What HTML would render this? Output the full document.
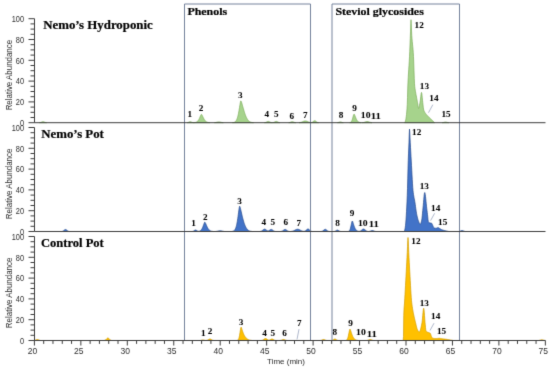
<!DOCTYPE html><html><head><meta charset="utf-8"><title>Chromatograms</title><style>
html,body{margin:0;padding:0;background:#fff;}body{width:550px;height:369px;overflow:hidden;}
svg{display:block;}
.t{font-family:"Liberation Serif",serif;font-weight:bold;fill:#000;stroke:#000;stroke-width:0.2px;}
.s{font-family:"Liberation Sans",Arial,sans-serif;fill:#2c2c2c;}
</style></head><body>
<svg width="550" height="369" viewBox="0 0 550 369">
<defs><filter id="bl" filterUnits="userSpaceOnUse" x="0" y="0" width="550" height="369" color-interpolation-filters="sRGB"><feConvolveMatrix order="3" kernelMatrix="0.0113 0.0838 0.0113 0.0838 0.6193 0.0838 0.0113 0.0838 0.0113" edgeMode="duplicate"/></filter></defs>
<g filter="url(#bl)">
<rect width="550" height="369" fill="#fff"/>
<path d="M39.50 122.70 L39.75 122.60 L40.00 122.56 L40.25 122.51 L40.50 122.45 L40.75 122.38 L41.00 122.29 L41.25 122.19 L41.50 122.09 L41.75 121.99 L42.00 121.90 L42.25 121.82 L42.50 121.75 L42.75 121.71 L43.00 121.70 L43.25 121.71 L43.50 121.75 L43.75 121.82 L44.00 121.90 L44.25 121.99 L44.50 122.09 L44.75 122.19 L45.00 122.29 L45.25 122.38 L45.50 122.45 L45.75 122.51 L46.00 122.56 L46.25 122.60 L46.50 122.70 Z M187.25 122.70 L187.50 122.58 L187.75 122.53 L188.00 122.46 L188.25 122.38 L188.50 122.27 L188.75 122.16 L189.00 122.05 L189.25 121.93 L189.50 121.83 L189.75 121.76 L190.00 121.71 L190.25 121.70 L190.50 121.72 L190.75 121.78 L191.00 121.87 L191.25 121.97 L191.50 122.09 L191.75 122.20 L192.00 122.31 L192.25 122.40 L192.50 122.47 L192.75 122.53 L193.00 122.57 L193.25 122.60 L193.50 122.62 L193.75 122.62 L194.00 122.61 L194.25 122.60 L194.50 122.58 L194.75 122.55 L195.00 122.51 L195.25 122.47 L195.50 122.41 L195.75 122.35 L196.00 122.26 L196.25 122.17 L196.50 122.05 L196.75 121.91 L197.00 121.75 L197.25 121.56 L197.50 121.33 L197.75 121.08 L198.00 120.79 L198.25 120.45 L198.50 120.08 L198.75 119.66 L199.00 119.21 L199.25 118.71 L199.50 118.17 L199.75 117.61 L200.00 117.02 L200.25 116.42 L200.50 115.83 L200.75 115.28 L201.00 114.79 L201.25 114.41 L201.50 114.35 L201.75 114.64 L202.00 115.04 L202.25 115.51 L202.50 116.02 L202.75 116.55 L203.00 117.08 L203.25 117.61 L203.50 118.11 L203.75 118.59 L204.00 119.05 L204.25 119.47 L204.50 119.86 L204.75 120.22 L205.00 120.54 L205.25 120.83 L205.50 121.09 L205.75 121.32 L206.00 121.52 L206.25 121.69 L206.50 121.85 L206.75 121.98 L207.00 122.10 L207.25 122.20 L207.50 122.28 L207.75 122.35 L208.00 122.41 L208.25 122.46 L208.50 122.50 L208.75 122.54 L209.00 122.57 L209.25 122.59 L209.50 122.61 L209.75 122.70 Z M214.50 122.70 L214.75 122.60 L215.00 122.57 L215.25 122.53 L215.50 122.49 L215.75 122.45 L216.00 122.40 L216.25 122.35 L216.50 122.29 L216.75 122.23 L217.00 122.17 L217.25 122.11 L217.50 122.05 L217.75 122.00 L218.00 121.96 L218.25 121.93 L218.50 121.91 L218.75 121.90 L219.00 121.90 L219.25 121.92 L219.50 121.95 L219.75 121.99 L220.00 122.03 L220.25 122.08 L220.50 122.14 L220.75 122.20 L221.00 122.26 L221.25 122.32 L221.50 122.38 L221.75 122.43 L222.00 122.48 L222.25 122.52 L222.50 122.56 L222.75 122.59 L223.00 122.61 L223.25 122.70 Z M232.50 122.70 L232.75 122.60 L233.00 122.57 L233.25 122.54 L233.50 122.50 L233.75 122.44 L234.00 122.37 L234.25 122.29 L234.50 122.18 L234.75 122.06 L235.00 121.90 L235.25 121.72 L235.50 121.49 L235.75 121.22 L236.00 120.90 L236.25 120.52 L236.50 120.08 L236.75 119.56 L237.00 118.95 L237.25 118.26 L237.50 117.47 L237.75 116.57 L238.00 115.57 L238.25 114.46 L238.50 113.24 L238.75 111.91 L239.00 110.49 L239.25 109.00 L239.50 107.46 L239.75 105.90 L240.00 104.38 L240.25 102.96 L240.50 101.75 L240.75 100.91 L241.00 101.02 L241.25 101.52 L241.50 102.18 L241.75 102.94 L242.00 103.77 L242.25 104.64 L242.50 105.53 L242.75 106.43 L243.00 107.33 L243.25 108.22 L243.50 109.10 L243.75 109.96 L244.00 110.80 L244.25 111.63 L244.50 112.44 L244.75 113.23 L245.00 113.97 L245.25 114.68 L245.50 115.35 L245.75 115.98 L246.00 116.57 L246.25 117.13 L246.50 117.65 L246.75 118.14 L247.00 118.59 L247.25 119.01 L247.50 119.40 L247.75 119.76 L248.00 120.09 L248.25 120.39 L248.50 120.66 L248.75 120.91 L249.00 121.14 L249.25 121.34 L249.50 121.52 L249.75 121.68 L250.00 121.82 L250.25 121.95 L250.50 122.06 L250.75 122.16 L251.00 122.24 L251.25 122.31 L251.50 122.37 L251.75 122.43 L252.00 122.47 L252.25 122.51 L252.50 122.54 L252.75 122.57 L253.00 122.59 L253.25 122.61 L253.50 122.70 Z M264.50 122.70 L264.75 122.61 L265.00 122.57 L265.25 122.51 L265.50 122.44 L265.75 122.36 L266.00 122.26 L266.25 122.14 L266.50 122.02 L266.75 121.89 L267.00 121.76 L267.25 121.64 L267.50 121.53 L267.75 121.46 L268.00 121.41 L268.25 121.40 L268.50 121.43 L268.75 121.48 L269.00 121.57 L269.25 121.68 L269.50 121.81 L269.75 121.94 L270.00 122.07 L270.25 122.19 L270.50 122.30 L270.75 122.39 L271.00 122.47 L271.25 122.53 L271.50 122.57 L271.75 122.61 L272.00 122.70 Z M272.25 122.70 L272.50 122.62 L272.75 122.59 L273.00 122.56 L273.25 122.51 L273.50 122.44 L273.75 122.36 L274.00 122.26 L274.25 122.14 L274.50 122.02 L274.75 121.89 L275.00 121.76 L275.25 121.64 L275.50 121.53 L275.75 121.46 L276.00 121.41 L276.25 121.40 L276.50 121.43 L276.75 121.48 L277.00 121.57 L277.25 121.68 L277.50 121.81 L277.75 121.94 L278.00 122.07 L278.25 122.19 L278.50 122.30 L278.75 122.39 L279.00 122.47 L279.25 122.54 L279.50 122.58 L279.75 122.70 Z M288.75 122.70 L289.00 122.60 L289.25 122.56 L289.50 122.50 L289.75 122.44 L290.00 122.36 L290.25 122.27 L290.50 122.17 L290.75 122.07 L291.00 121.97 L291.25 121.88 L291.50 121.80 L291.75 121.74 L292.00 121.71 L292.25 121.70 L292.50 121.72 L292.75 121.77 L293.00 121.83 L293.25 121.92 L293.50 122.01 L293.75 122.11 L294.00 122.21 L294.25 122.31 L294.50 122.39 L294.75 122.46 L295.00 122.52 L295.25 122.57 L295.50 122.61 L295.75 122.70 Z M299.00 122.70 L299.25 122.60 L299.50 122.58 L299.75 122.55 L300.00 122.51 L300.25 122.47 L300.50 122.42 L300.75 122.36 L301.00 122.29 L301.25 122.22 L301.50 122.13 L301.75 122.04 L302.00 121.95 L302.25 121.84 L302.50 121.74 L302.75 121.63 L303.00 121.52 L303.25 121.41 L303.50 121.31 L303.75 121.21 L304.00 121.13 L304.25 121.05 L304.50 120.99 L304.75 120.94 L305.00 120.91 L305.25 120.90 L305.50 120.91 L305.75 120.93 L306.00 120.97 L306.25 121.03 L306.50 121.10 L306.75 121.18 L307.00 121.27 L307.25 121.37 L307.50 121.48 L307.75 121.59 L308.00 121.70 L308.25 121.80 L308.50 121.91 L308.75 122.01 L309.00 122.10 L309.25 122.18 L309.50 122.26 L309.75 122.33 L310.00 122.39 L310.25 122.43 L310.50 122.47 L310.75 122.50 L311.00 122.51 L311.25 122.50 L311.50 122.47 L311.75 122.42 L312.00 122.34 L312.25 122.23 L312.50 122.09 L312.75 121.92 L313.00 121.73 L313.25 121.52 L313.50 121.31 L313.75 121.11 L314.00 120.93 L314.25 120.80 L314.50 120.72 L314.75 120.70 L315.00 120.74 L315.25 120.85 L315.50 121.00 L315.75 121.19 L316.00 121.40 L316.25 121.62 L316.50 121.82 L316.75 122.02 L317.00 122.18 L317.25 122.32 L317.50 122.43 L317.75 122.51 L318.00 122.58 L318.25 122.62 L318.50 122.70 Z M337.50 122.70 L337.75 122.58 L338.00 122.53 L338.25 122.47 L338.50 122.39 L338.75 122.31 L339.00 122.21 L339.25 122.12 L339.50 122.04 L339.75 121.97 L340.00 121.92 L340.25 121.90 L340.50 121.91 L340.75 121.95 L341.00 122.01 L341.25 122.09 L341.50 122.18 L341.75 122.27 L342.00 122.36 L342.25 122.44 L342.50 122.51 L342.75 122.56 L343.00 122.61 L343.25 122.70 Z M349.75 122.70 L350.00 122.58 L350.25 122.51 L350.50 122.40 L350.75 122.25 L351.00 122.04 L351.25 121.75 L351.50 121.37 L351.75 120.89 L352.00 120.29 L352.25 119.58 L352.50 118.76 L352.75 117.86 L353.00 116.92 L353.25 116.00 L353.50 115.17 L353.75 114.52 L354.00 114.15 L354.25 114.23 L354.50 114.65 L354.75 115.19 L355.00 115.81 L355.25 116.45 L355.50 117.10 L355.75 117.73 L356.00 118.34 L356.25 118.90 L356.50 119.42 L356.75 119.89 L357.00 120.31 L357.25 120.68 L357.50 121.01 L357.75 121.29 L358.00 121.53 L358.25 121.74 L358.50 121.91 L358.75 122.06 L359.00 122.18 L359.25 122.28 L359.50 122.37 L359.75 122.43 L360.00 122.49 L360.25 122.53 L360.50 122.57 L360.75 122.59 L361.00 122.61 L361.25 122.70 Z M362.25 122.70 L362.50 122.61 L362.75 122.59 L363.00 122.56 L363.25 122.52 L363.50 122.48 L363.75 122.43 L364.00 122.36 L364.25 122.29 L364.50 122.22 L364.75 122.13 L365.00 122.04 L365.25 121.95 L365.50 121.86 L365.75 121.78 L366.00 121.70 L366.25 121.63 L366.50 121.57 L366.75 121.53 L367.00 121.51 L367.25 121.50 L367.50 121.51 L367.75 121.54 L368.00 121.59 L368.25 121.65 L368.50 121.73 L368.75 121.81 L369.00 121.90 L369.25 121.99 L369.50 122.08 L369.75 122.17 L370.00 122.25 L370.25 122.32 L370.50 122.39 L370.75 122.45 L371.00 122.50 L371.25 122.55 L371.50 122.58 L371.75 122.61 L372.00 122.70 Z M404.50 122.70 L404.75 122.41 L405.00 122.05 L405.25 121.60 L405.50 120.94 L405.75 119.81 L406.00 118.32 L406.25 116.57 L406.50 114.56 L406.75 112.02 L407.00 108.76 L407.25 104.64 L407.50 97.52 L407.75 88.09 L408.00 82.10 L408.25 77.21 L408.50 72.99 L408.75 69.14 L409.00 65.35 L409.25 61.32 L409.50 56.75 L409.75 51.32 L410.00 45.08 L410.25 38.54 L410.50 31.85 L410.75 23.82 L411.00 19.70 L411.25 23.16 L411.50 30.11 L411.75 35.47 L412.00 38.85 L412.25 41.63 L412.50 44.09 L412.75 46.52 L413.00 49.20 L413.25 52.40 L413.50 56.60 L413.75 63.06 L414.00 70.77 L414.25 78.19 L414.50 83.80 L414.75 86.69 L415.00 88.65 L415.25 90.21 L415.50 91.70 L415.75 93.18 L416.00 94.55 L416.25 95.85 L416.50 97.16 L416.75 98.52 L417.00 99.87 L417.25 101.23 L417.50 102.58 L417.75 103.93 L418.00 105.48 L418.25 107.22 L418.50 108.37 L418.75 108.39 L419.00 107.76 L419.25 106.69 L419.50 105.33 L419.75 103.81 L420.00 102.26 L420.25 100.81 L420.50 98.95 L420.75 96.74 L421.00 94.62 L421.25 93.03 L421.50 92.40 L421.75 93.19 L422.00 95.15 L422.25 97.69 L422.50 100.22 L422.75 102.42 L423.00 104.86 L423.25 107.22 L423.50 109.03 L423.75 110.04 L424.00 110.77 L424.25 111.36 L424.50 111.85 L424.75 112.28 L425.00 112.69 L425.25 113.07 L425.50 113.42 L425.75 113.76 L426.00 114.07 L426.25 114.36 L426.50 114.65 L426.75 114.92 L427.00 115.18 L427.25 115.43 L427.50 115.68 L427.75 115.93 L428.00 116.18 L428.25 116.44 L428.50 116.70 L428.75 116.96 L429.00 117.22 L429.25 117.47 L429.50 117.72 L429.75 117.96 L430.00 118.20 L430.25 118.43 L430.50 118.67 L430.75 118.90 L431.00 119.14 L431.25 119.38 L431.50 119.61 L431.75 119.86 L432.00 120.10 L432.25 120.35 L432.50 120.60 L432.75 120.85 L433.00 121.10 L433.25 121.35 L433.50 121.60 L433.75 121.85 L434.00 122.10 L434.25 122.35 L434.50 122.60 L434.75 122.70 Z M442.25 122.70 L442.50 122.62 L442.75 122.59 L443.00 122.55 L443.25 122.51 L443.50 122.45 L443.75 122.40 L444.00 122.34 L444.25 122.28 L444.50 122.22 L444.75 122.17 L445.00 122.13 L445.25 122.11 L445.50 122.10 L445.75 122.11 L446.00 122.13 L446.25 122.17 L446.50 122.22 L446.75 122.28 L447.00 122.34 L447.25 122.40 L447.50 122.45 L447.75 122.51 L448.00 122.55 L448.25 122.59 L448.50 122.62 L448.75 122.70 Z" fill="#a6d38c" stroke="#7dae5c" stroke-width="0.7" stroke-linejoin="round"/>
<path d="M61.75 231.50 L62.00 231.41 L62.25 231.36 L62.50 231.30 L62.75 231.21 L63.00 231.09 L63.25 230.95 L63.50 230.78 L63.75 230.58 L64.00 230.37 L64.25 230.16 L64.50 229.95 L64.75 229.77 L65.00 229.62 L65.25 229.53 L65.50 229.50 L65.75 229.53 L66.00 229.62 L66.25 229.77 L66.50 229.95 L66.75 230.16 L67.00 230.37 L67.25 230.58 L67.50 230.78 L67.75 230.95 L68.00 231.09 L68.25 231.21 L68.50 231.30 L68.75 231.36 L69.00 231.41 L69.25 231.50 Z M192.25 231.50 L192.50 231.40 L192.75 231.34 L193.00 231.26 L193.25 231.16 L193.50 231.04 L193.75 230.89 L194.00 230.73 L194.25 230.55 L194.50 230.38 L194.75 230.23 L195.00 230.10 L195.25 230.02 L195.50 229.99 L195.75 230.02 L196.00 230.10 L196.25 230.22 L196.50 230.37 L196.75 230.53 L197.00 230.70 L197.25 230.85 L197.50 230.98 L197.75 231.09 L198.00 231.17 L198.25 231.22 L198.50 231.24 L198.75 231.24 L199.00 231.21 L199.25 231.16 L199.50 231.09 L199.75 231.00 L200.00 230.88 L200.25 230.74 L200.50 230.57 L200.75 230.36 L201.00 230.12 L201.25 229.84 L201.50 229.51 L201.75 229.14 L202.00 228.71 L202.25 228.23 L202.50 227.69 L202.75 227.11 L203.00 226.47 L203.25 225.80 L203.50 225.10 L203.75 224.39 L204.00 223.69 L204.25 223.04 L204.50 222.49 L204.75 222.13 L205.00 222.27 L205.25 222.65 L205.50 223.13 L205.75 223.68 L206.00 224.26 L206.25 224.86 L206.50 225.45 L206.75 226.03 L207.00 226.58 L207.25 227.11 L207.50 227.61 L207.75 228.07 L208.00 228.49 L208.25 228.87 L208.50 229.21 L208.75 229.52 L209.00 229.80 L209.25 230.04 L209.50 230.26 L209.75 230.45 L210.00 230.61 L210.25 230.75 L210.50 230.87 L210.75 230.97 L211.00 231.06 L211.25 231.14 L211.50 231.20 L211.75 231.25 L212.00 231.30 L212.25 231.33 L212.50 231.36 L212.75 231.39 L213.00 231.41 L213.25 231.50 Z M215.50 231.50 L215.75 231.42 L216.00 231.40 L216.25 231.37 L216.50 231.34 L216.75 231.30 L217.00 231.26 L217.25 231.21 L217.50 231.16 L217.75 231.10 L218.00 231.04 L218.25 230.98 L218.50 230.92 L218.75 230.86 L219.00 230.81 L219.25 230.77 L219.50 230.74 L219.75 230.71 L220.00 230.70 L220.25 230.70 L220.50 230.72 L220.75 230.74 L221.00 230.78 L221.25 230.82 L221.50 230.87 L221.75 230.93 L222.00 230.99 L222.25 231.05 L222.50 231.11 L222.75 231.17 L223.00 231.22 L223.25 231.27 L223.50 231.31 L223.75 231.35 L224.00 231.38 L224.25 231.41 L224.50 231.50 Z M231.50 231.50 L231.75 231.42 L232.00 231.39 L232.25 231.36 L232.50 231.31 L232.75 231.26 L233.00 231.19 L233.25 231.10 L233.50 231.00 L233.75 230.86 L234.00 230.69 L234.25 230.49 L234.50 230.24 L234.75 229.93 L235.00 229.56 L235.25 229.12 L235.50 228.59 L235.75 227.97 L236.00 227.24 L236.25 226.39 L236.50 225.42 L236.75 224.30 L237.00 223.05 L237.25 221.65 L237.50 220.11 L237.75 218.43 L238.00 216.65 L238.25 214.77 L238.50 212.85 L238.75 210.95 L239.00 209.14 L239.25 207.54 L239.50 206.37 L239.75 206.28 L240.00 206.88 L240.25 207.70 L240.50 208.66 L240.75 209.70 L241.00 210.80 L241.25 211.91 L241.50 213.02 L241.75 214.12 L242.00 215.20 L242.25 216.25 L242.50 217.27 L242.75 218.25 L243.00 219.20 L243.25 220.12 L243.50 221.01 L243.75 221.86 L244.00 222.66 L244.25 223.42 L244.50 224.12 L244.75 224.78 L245.00 225.40 L245.25 225.97 L245.50 226.51 L245.75 227.00 L246.00 227.46 L246.25 227.89 L246.50 228.28 L246.75 228.64 L247.00 228.97 L247.25 229.27 L247.50 229.54 L247.75 229.79 L248.00 230.01 L248.25 230.21 L248.50 230.39 L248.75 230.55 L249.00 230.68 L249.25 230.81 L249.50 230.91 L249.75 231.01 L250.00 231.09 L250.25 231.16 L250.50 231.21 L250.75 231.26 L251.00 231.31 L251.25 231.34 L251.50 231.37 L251.75 231.40 L252.00 231.42 L252.25 231.50 Z M260.00 231.50 L260.25 231.41 L260.50 231.37 L260.75 231.32 L261.00 231.25 L261.25 231.16 L261.50 231.04 L261.75 230.91 L262.00 230.75 L262.25 230.58 L262.50 230.38 L262.75 230.17 L263.00 229.96 L263.25 229.75 L263.50 229.55 L263.75 229.38 L264.00 229.24 L264.25 229.15 L264.50 229.10 L264.75 229.11 L265.00 229.16 L265.25 229.27 L265.50 229.41 L265.75 229.58 L266.00 229.78 L266.25 229.98 L266.50 230.19 L266.75 230.38 L267.00 230.55 L267.25 230.69 L267.50 230.79 L267.75 230.86 L268.00 230.89 L268.25 230.88 L268.50 230.82 L268.75 230.73 L269.00 230.60 L269.25 230.44 L269.50 230.27 L269.75 230.08 L270.00 229.90 L270.25 229.73 L270.50 229.59 L270.75 229.48 L271.00 229.41 L271.25 229.40 L271.50 229.44 L271.75 229.52 L272.00 229.65 L272.25 229.81 L272.50 229.99 L272.75 230.19 L273.00 230.38 L273.25 230.58 L273.50 230.75 L273.75 230.91 L274.00 231.05 L274.25 231.16 L274.50 231.25 L274.75 231.32 L275.00 231.37 L275.25 231.41 L275.50 231.50 Z M281.00 231.50 L281.25 231.38 L281.50 231.33 L281.75 231.27 L282.00 231.18 L282.25 231.07 L282.50 230.94 L282.75 230.79 L283.00 230.61 L283.25 230.42 L283.50 230.23 L283.75 230.03 L284.00 229.84 L284.25 229.68 L284.50 229.54 L284.75 229.45 L285.00 229.40 L285.25 229.41 L285.50 229.46 L285.75 229.57 L286.00 229.71 L286.25 229.88 L286.50 230.07 L286.75 230.27 L287.00 230.46 L287.25 230.65 L287.50 230.82 L287.75 230.97 L288.00 231.09 L288.25 231.19 L288.50 231.28 L288.75 231.34 L289.00 231.38 L289.25 231.41 L289.50 231.50 Z M290.75 231.50 L291.00 231.41 L291.25 231.38 L291.50 231.35 L291.75 231.32 L292.00 231.27 L292.25 231.22 L292.50 231.16 L292.75 231.10 L293.00 231.02 L293.25 230.93 L293.50 230.84 L293.75 230.73 L294.00 230.62 L294.25 230.50 L294.50 230.37 L294.75 230.24 L295.00 230.10 L295.25 229.97 L295.50 229.84 L295.75 229.71 L296.00 229.60 L296.25 229.49 L296.50 229.40 L296.75 229.32 L297.00 229.26 L297.25 229.22 L297.50 229.20 L297.75 229.20 L298.00 229.23 L298.25 229.27 L298.50 229.33 L298.75 229.41 L299.00 229.51 L299.25 229.62 L299.50 229.74 L299.75 229.87 L300.00 230.00 L300.25 230.13 L300.50 230.27 L300.75 230.40 L301.00 230.52 L301.25 230.64 L301.50 230.75 L301.75 230.86 L302.00 230.95 L302.25 231.03 L302.50 231.10 L302.75 231.17 L303.00 231.21 L303.25 231.25 L303.50 231.28 L303.75 231.29 L304.00 231.28 L304.25 231.25 L304.50 231.20 L304.75 231.13 L305.00 231.03 L305.25 230.90 L305.50 230.74 L305.75 230.55 L306.00 230.34 L306.25 230.12 L306.50 229.88 L306.75 229.65 L307.00 229.44 L307.25 229.26 L307.50 229.12 L307.75 229.03 L308.00 229.00 L308.25 229.03 L308.50 229.12 L308.75 229.26 L309.00 229.44 L309.25 229.66 L309.50 229.89 L309.75 230.13 L310.00 230.36 L310.25 230.57 L310.50 230.76 L310.75 230.93 L311.00 231.07 L311.25 231.18 L311.50 231.27 L311.75 231.34 L312.00 231.39 L312.25 231.50 Z M321.25 231.50 L321.50 231.39 L321.75 231.34 L322.00 231.27 L322.25 231.18 L322.50 231.06 L322.75 230.92 L323.00 230.75 L323.25 230.55 L323.50 230.34 L323.75 230.12 L324.00 229.90 L324.25 229.70 L324.50 229.53 L324.75 229.40 L325.00 229.32 L325.25 229.30 L325.50 229.34 L325.75 229.44 L326.00 229.59 L326.25 229.78 L326.50 229.99 L326.75 230.21 L327.00 230.43 L327.25 230.64 L327.50 230.82 L327.75 230.98 L328.00 231.11 L328.25 231.22 L328.50 231.30 L328.75 231.37 L329.00 231.41 L329.25 231.50 Z M334.25 231.50 L334.50 231.38 L334.75 231.32 L335.00 231.25 L335.25 231.14 L335.50 231.02 L335.75 230.87 L336.00 230.72 L336.25 230.55 L336.50 230.40 L336.75 230.26 L337.00 230.16 L337.25 230.11 L337.50 230.10 L337.75 230.15 L338.00 230.24 L338.25 230.37 L338.50 230.52 L338.75 230.68 L339.00 230.84 L339.25 230.99 L339.50 231.12 L339.75 231.23 L340.00 231.31 L340.25 231.37 L340.50 231.42 L340.75 231.50 Z M348.00 231.50 L348.25 231.42 L348.50 231.36 L348.75 231.27 L349.00 231.13 L349.25 230.92 L349.50 230.62 L349.75 230.21 L350.00 229.66 L350.25 228.95 L350.50 228.07 L350.75 227.04 L351.00 225.87 L351.25 224.63 L351.50 223.41 L351.75 222.30 L352.00 221.46 L352.25 221.02 L352.50 221.28 L352.75 221.88 L353.00 222.60 L353.25 223.39 L353.50 224.19 L353.75 224.98 L354.00 225.73 L354.25 226.45 L354.50 227.11 L354.75 227.71 L355.00 228.25 L355.25 228.73 L355.50 229.16 L355.75 229.53 L356.00 229.85 L356.25 230.13 L356.50 230.36 L356.75 230.57 L357.00 230.73 L357.25 230.87 L357.50 230.99 L357.75 231.08 L358.00 231.16 L358.25 231.22 L358.50 231.26 L358.75 231.28 L359.00 231.29 L359.25 231.29 L359.50 231.26 L359.75 231.22 L360.00 231.15 L360.25 231.06 L360.50 230.94 L360.75 230.80 L361.00 230.63 L361.25 230.45 L361.50 230.24 L361.75 230.02 L362.00 229.80 L362.25 229.59 L362.50 229.39 L362.75 229.23 L363.00 229.10 L363.25 229.03 L363.50 229.00 L363.75 229.03 L364.00 229.11 L364.25 229.23 L364.50 229.40 L364.75 229.59 L365.00 229.81 L365.25 230.03 L365.50 230.25 L365.75 230.46 L366.00 230.65 L366.25 230.82 L366.50 230.97 L366.75 231.10 L367.00 231.20 L367.25 231.28 L367.50 231.34 L367.75 231.38 L368.00 231.41 L368.25 231.50 Z M368.50 231.50 L368.75 231.42 L369.00 231.40 L369.25 231.37 L369.50 231.32 L369.75 231.26 L370.00 231.19 L370.25 231.11 L370.50 231.01 L370.75 230.91 L371.00 230.81 L371.25 230.72 L371.50 230.63 L371.75 230.56 L372.00 230.52 L372.25 230.50 L372.50 230.51 L372.75 230.54 L373.00 230.60 L373.25 230.68 L373.50 230.77 L373.75 230.87 L374.00 230.97 L374.25 231.07 L374.50 231.16 L374.75 231.24 L375.00 231.30 L375.25 231.36 L375.50 231.40 L375.75 231.50 Z M403.75 231.50 L404.00 231.42 L404.25 231.13 L404.50 230.70 L404.75 230.08 L405.00 228.94 L405.25 227.37 L405.50 225.50 L405.75 223.06 L406.00 219.81 L406.25 215.94 L406.50 211.63 L406.75 207.06 L407.00 201.81 L407.25 195.64 L407.50 188.36 L407.75 178.85 L408.00 168.80 L408.25 160.44 L408.50 153.90 L408.75 148.01 L409.00 142.00 L409.25 133.96 L409.50 129.10 L409.75 132.09 L410.00 137.93 L410.25 142.75 L410.50 147.37 L410.75 152.00 L411.00 156.57 L411.25 161.03 L411.50 165.49 L411.75 170.18 L412.00 174.93 L412.25 179.54 L412.50 183.81 L412.75 187.55 L413.00 190.55 L413.25 192.74 L413.50 194.52 L413.75 196.04 L414.00 197.38 L414.25 198.64 L414.50 199.91 L414.75 201.29 L415.00 202.85 L415.25 204.59 L415.50 206.43 L415.75 208.30 L416.00 210.11 L416.25 211.79 L416.50 213.28 L416.75 214.53 L417.00 215.71 L417.25 216.81 L417.50 217.83 L417.75 218.78 L418.00 219.63 L418.25 220.39 L418.50 221.06 L418.75 221.73 L419.00 222.40 L419.25 223.02 L419.50 223.56 L419.75 223.97 L420.00 224.23 L420.25 224.29 L420.50 224.09 L420.75 223.62 L421.00 222.95 L421.25 222.12 L421.50 221.19 L421.75 220.05 L422.00 218.21 L422.25 215.83 L422.50 213.17 L422.75 210.47 L423.00 208.00 L423.25 205.43 L423.50 202.49 L423.75 199.47 L424.00 196.67 L424.25 194.38 L424.50 192.90 L424.75 192.52 L425.00 193.13 L425.25 194.49 L425.50 196.41 L425.75 198.72 L426.00 201.25 L426.25 203.82 L426.50 206.26 L426.75 208.40 L427.00 210.46 L427.25 212.55 L427.50 214.65 L427.75 216.93 L428.00 219.53 L428.25 221.34 L428.50 221.92 L428.75 222.32 L429.00 222.58 L429.25 222.72 L429.50 222.81 L429.75 222.88 L430.00 222.93 L430.25 222.96 L430.50 222.99 L430.75 223.03 L431.00 223.07 L431.25 223.13 L431.50 223.21 L431.75 223.33 L432.00 223.73 L432.25 224.35 L432.50 224.99 L432.75 225.50 L433.00 226.06 L433.25 226.62 L433.50 227.15 L433.75 227.59 L434.00 227.89 L434.25 228.01 L434.50 228.06 L434.75 228.10 L435.00 228.14 L435.25 228.16 L435.50 228.18 L435.75 228.20 L436.00 228.20 L436.25 228.17 L436.50 228.11 L436.75 228.01 L437.00 227.90 L437.25 227.79 L437.50 227.69 L437.75 227.63 L438.00 227.60 L438.25 227.63 L438.50 227.72 L438.75 227.85 L439.00 228.01 L439.25 228.19 L439.50 228.37 L439.75 228.55 L440.00 228.70 L440.25 228.84 L440.50 228.99 L440.75 229.15 L441.00 229.30 L441.25 229.44 L441.50 229.57 L441.75 229.68 L442.00 229.77 L442.25 229.86 L442.50 229.94 L442.75 230.02 L443.00 230.09 L443.25 230.16 L443.50 230.23 L443.75 230.29 L444.00 230.36 L444.25 230.42 L444.50 230.48 L444.75 230.54 L445.00 230.60 L445.25 230.66 L445.50 230.72 L445.75 230.79 L446.00 230.85 L446.25 230.91 L446.50 230.96 L446.75 231.02 L447.00 231.08 L447.25 231.13 L447.50 231.19 L447.75 231.24 L448.00 231.30 L448.25 231.35 L448.50 231.40 L448.75 231.50 Z M458.75 231.50 L459.00 231.40 L459.25 231.35 L459.50 231.30 L459.75 231.23 L460.00 231.14 L460.25 231.04 L460.50 230.94 L460.75 230.83 L461.00 230.73 L461.25 230.63 L461.50 230.56 L461.75 230.52 L462.00 230.50 L462.25 230.52 L462.50 230.56 L462.75 230.63 L463.00 230.73 L463.25 230.83 L463.50 230.94 L463.75 231.04 L464.00 231.14 L464.25 231.23 L464.50 231.30 L464.75 231.35 L465.00 231.40 L465.25 231.50 Z" fill="#4273c8" stroke="#274a8c" stroke-width="0.7" stroke-linejoin="round"/>
<path d="M34.75 340.50 L35.00 340.24 L35.25 340.16 L35.50 340.06 L35.75 339.96 L36.00 339.85 L36.25 339.75 L36.50 339.65 L36.75 339.57 L37.00 339.52 L37.25 339.50 L37.50 339.51 L37.75 339.55 L38.00 339.62 L38.25 339.71 L38.50 339.81 L38.75 339.92 L39.00 340.02 L39.25 340.12 L39.50 340.21 L39.75 340.28 L40.00 340.34 L40.25 340.39 L40.50 340.50 Z M104.00 340.50 L104.25 340.42 L104.50 340.37 L104.75 340.30 L105.00 340.21 L105.25 340.08 L105.50 339.92 L105.75 339.73 L106.00 339.50 L106.25 339.25 L106.50 338.98 L106.75 338.72 L107.00 338.47 L107.25 338.26 L107.50 338.10 L107.75 338.01 L108.00 338.01 L108.25 338.08 L108.50 338.22 L108.75 338.42 L109.00 338.66 L109.25 338.93 L109.50 339.20 L109.75 339.46 L110.00 339.69 L110.25 339.89 L110.50 340.05 L110.75 340.19 L111.00 340.28 L111.25 340.36 L111.50 340.41 L111.75 340.50 Z M200.25 340.50 L200.50 340.39 L200.75 340.35 L201.00 340.29 L201.25 340.23 L201.50 340.16 L201.75 340.09 L202.00 340.03 L202.25 339.97 L202.50 339.93 L202.75 339.90 L203.00 339.90 L203.25 339.92 L203.50 339.96 L203.75 340.02 L204.00 340.08 L204.25 340.15 L204.50 340.22 L204.75 340.28 L205.00 340.33 L205.25 340.37 L205.50 340.40 L205.75 340.41 L206.00 340.41 L206.25 340.40 L206.50 340.37 L206.75 340.33 L207.00 340.26 L207.25 340.18 L207.50 340.08 L207.75 339.96 L208.00 339.83 L208.25 339.68 L208.50 339.53 L208.75 339.38 L209.00 339.25 L209.25 339.13 L209.50 339.05 L209.75 339.01 L210.00 339.00 L210.25 339.04 L210.50 339.12 L210.75 339.22 L211.00 339.35 L211.25 339.50 L211.50 339.65 L211.75 339.80 L212.00 339.94 L212.25 340.06 L212.50 340.17 L212.75 340.25 L213.00 340.32 L213.25 340.38 L213.50 340.42 L213.75 340.50 Z M237.00 340.50 L237.25 340.39 L237.50 340.31 L237.75 340.18 L238.00 339.98 L238.25 339.68 L238.50 339.25 L238.75 338.65 L239.00 337.84 L239.25 336.82 L239.50 335.56 L239.75 334.10 L240.00 332.50 L240.25 330.85 L240.50 329.31 L240.75 328.04 L241.00 327.26 L241.25 327.36 L241.50 327.98 L241.75 328.71 L242.00 329.48 L242.25 330.26 L242.50 331.03 L242.75 331.76 L243.00 332.45 L243.25 333.10 L243.50 333.70 L243.75 334.26 L244.00 334.79 L244.25 335.28 L244.50 335.74 L244.75 336.17 L245.00 336.56 L245.25 336.92 L245.50 337.25 L245.75 337.55 L246.00 337.83 L246.25 338.08 L246.50 338.32 L246.75 338.53 L247.00 338.73 L247.25 338.92 L247.50 339.09 L247.75 339.24 L248.00 339.38 L248.25 339.51 L248.50 339.63 L248.75 339.74 L249.00 339.84 L249.25 339.93 L249.50 340.01 L249.75 340.08 L250.00 340.14 L250.25 340.19 L250.50 340.24 L250.75 340.28 L251.00 340.32 L251.25 340.35 L251.50 340.38 L251.75 340.40 L252.00 340.42 L252.25 340.50 Z M261.25 340.50 L261.50 340.41 L261.75 340.37 L262.00 340.32 L262.25 340.25 L262.50 340.16 L262.75 340.04 L263.00 339.91 L263.25 339.76 L263.50 339.58 L263.75 339.40 L264.00 339.21 L264.25 339.03 L264.50 338.85 L264.75 338.71 L265.00 338.60 L265.25 338.52 L265.50 338.50 L265.75 338.52 L266.00 338.59 L266.25 338.71 L266.50 338.85 L266.75 339.02 L267.00 339.21 L267.25 339.39 L267.50 339.57 L267.75 339.73 L268.00 339.87 L268.25 339.98 L268.50 340.06 L268.75 340.10 L269.00 340.11 L269.25 340.09 L269.50 340.04 L269.75 339.95 L270.00 339.85 L270.25 339.72 L270.50 339.58 L270.75 339.43 L271.00 339.29 L271.25 339.17 L271.50 339.08 L271.75 339.02 L272.00 339.00 L272.25 339.02 L272.50 339.08 L272.75 339.18 L273.00 339.30 L273.25 339.44 L273.50 339.59 L273.75 339.74 L274.00 339.88 L274.25 340.01 L274.50 340.13 L274.75 340.22 L275.00 340.30 L275.25 340.36 L275.50 340.40 L275.75 340.50 Z M280.00 340.50 L280.25 340.40 L280.50 340.36 L280.75 340.31 L281.00 340.25 L281.25 340.18 L281.50 340.09 L281.75 339.99 L282.00 339.89 L282.25 339.79 L282.50 339.70 L282.75 339.62 L283.00 339.55 L283.25 339.51 L283.50 339.50 L283.75 339.51 L284.00 339.55 L284.25 339.62 L284.50 339.70 L284.75 339.79 L285.00 339.89 L285.25 339.99 L285.50 340.09 L285.75 340.18 L286.00 340.25 L286.25 340.31 L286.50 340.36 L286.75 340.40 L287.00 340.50 Z M320.25 340.50 L320.50 340.41 L320.75 340.37 L321.00 340.32 L321.25 340.26 L321.50 340.18 L321.75 340.08 L322.00 339.98 L322.25 339.87 L322.50 339.77 L322.75 339.67 L323.00 339.59 L323.25 339.53 L323.50 339.50 L323.75 339.51 L324.00 339.54 L324.25 339.60 L324.50 339.69 L324.75 339.79 L325.00 339.89 L325.25 340.00 L325.50 340.10 L325.75 340.19 L326.00 340.27 L326.25 340.33 L326.50 340.38 L326.75 340.50 Z M331.75 340.50 L332.00 340.38 L332.25 340.31 L332.50 340.23 L332.75 340.12 L333.00 339.98 L333.25 339.83 L333.50 339.66 L333.75 339.49 L334.00 339.32 L334.25 339.18 L334.50 339.07 L334.75 339.01 L335.00 339.00 L335.25 339.05 L335.50 339.15 L335.75 339.29 L336.00 339.45 L336.25 339.63 L336.50 339.80 L336.75 339.96 L337.00 340.09 L337.25 340.21 L337.50 340.30 L337.75 340.36 L338.00 340.41 L338.25 340.50 Z M345.50 340.50 L345.75 340.41 L346.00 340.36 L346.25 340.27 L346.50 340.13 L346.75 339.94 L347.00 339.65 L347.25 339.27 L347.50 338.75 L347.75 338.08 L348.00 337.25 L348.25 336.25 L348.50 335.10 L348.75 333.84 L349.00 332.55 L349.25 331.30 L349.50 330.22 L349.75 329.43 L350.00 329.10 L350.25 329.50 L350.50 330.12 L350.75 330.84 L351.00 331.60 L351.25 332.38 L351.50 333.14 L351.75 333.88 L352.00 334.58 L352.25 335.23 L352.50 335.84 L352.75 336.40 L353.00 336.91 L353.25 337.37 L353.50 337.78 L353.75 338.15 L354.00 338.47 L354.25 338.76 L354.50 339.01 L354.75 339.23 L355.00 339.42 L355.25 339.59 L355.50 339.73 L355.75 339.85 L356.00 339.96 L356.25 340.05 L356.50 340.12 L356.75 340.19 L357.00 340.24 L357.25 340.29 L357.50 340.32 L357.75 340.35 L358.00 340.38 L358.25 340.40 L358.50 340.50 Z M366.50 340.50 L366.75 340.42 L367.00 340.38 L367.25 340.34 L367.50 340.28 L367.75 340.21 L368.00 340.12 L368.25 340.03 L368.50 339.93 L368.75 339.83 L369.00 339.74 L369.25 339.65 L369.50 339.58 L369.75 339.53 L370.00 339.50 L370.25 339.50 L370.50 339.53 L370.75 339.59 L371.00 339.66 L371.25 339.75 L371.50 339.85 L371.75 339.95 L372.00 340.05 L372.25 340.14 L372.50 340.22 L372.75 340.29 L373.00 340.35 L373.25 340.39 L373.50 340.50 Z M402.75 340.50 L403.00 340.23 L403.25 339.26 L403.50 336.64 L403.75 315.58 L404.00 309.11 L404.25 305.83 L404.50 303.06 L404.75 298.81 L405.00 294.33 L405.25 289.84 L405.50 285.33 L405.75 280.79 L406.00 276.21 L406.25 271.57 L406.50 266.88 L406.75 262.13 L407.00 257.33 L407.25 252.48 L407.50 246.73 L407.75 240.46 L408.00 237.50 L408.25 240.16 L408.50 246.15 L408.75 252.46 L409.00 257.41 L409.25 262.28 L409.50 267.04 L409.75 271.62 L410.00 276.09 L410.25 280.68 L410.50 285.27 L410.75 289.69 L411.00 293.81 L411.25 297.45 L411.50 300.49 L411.75 302.86 L412.00 304.89 L412.25 306.68 L412.50 308.28 L412.75 309.76 L413.00 311.15 L413.25 312.51 L413.50 313.80 L413.75 315.02 L414.00 316.18 L414.25 317.30 L414.50 318.37 L414.75 319.42 L415.00 320.45 L415.25 321.46 L415.50 322.48 L415.75 323.51 L416.00 324.59 L416.25 325.70 L416.50 326.78 L416.75 327.76 L417.00 328.59 L417.25 329.21 L417.50 329.74 L417.75 330.26 L418.00 330.74 L418.25 331.17 L418.50 331.53 L418.75 331.79 L419.00 331.96 L419.25 332.00 L419.50 331.84 L419.75 331.49 L420.00 330.96 L420.25 330.27 L420.50 329.45 L420.75 328.51 L421.00 327.47 L421.25 326.37 L421.50 325.21 L421.75 324.02 L422.00 322.74 L422.25 320.72 L422.50 318.11 L422.75 315.24 L423.00 312.48 L423.25 310.15 L423.50 308.62 L423.75 308.24 L424.00 309.51 L424.25 312.13 L424.50 315.52 L424.75 319.09 L425.00 322.27 L425.25 324.80 L425.50 327.45 L425.75 329.70 L426.00 330.90 L426.25 331.28 L426.50 331.56 L426.75 331.75 L427.00 331.90 L427.25 332.03 L427.50 332.12 L427.75 332.21 L428.00 332.29 L428.25 332.36 L428.50 332.46 L428.75 332.56 L429.00 332.66 L429.25 332.76 L429.50 332.87 L429.75 333.00 L430.00 333.16 L430.25 333.36 L430.50 333.65 L430.75 334.37 L431.00 335.27 L431.25 336.03 L431.50 336.70 L431.75 337.27 L432.00 337.61 L432.25 337.87 L432.50 338.08 L432.75 338.22 L433.00 338.30 L433.25 338.33 L433.50 338.36 L433.75 338.39 L434.00 338.41 L434.25 338.43 L434.50 338.45 L434.75 338.47 L435.00 338.48 L435.25 338.49 L435.50 338.49 L435.75 338.50 L436.00 338.50 L436.25 338.50 L436.50 338.49 L436.75 338.47 L437.00 338.46 L437.25 338.44 L437.50 338.41 L437.75 338.39 L438.00 338.37 L438.25 338.35 L438.50 338.33 L438.75 338.31 L439.00 338.30 L439.25 338.30 L439.50 338.30 L439.75 338.32 L440.00 338.35 L440.25 338.38 L440.50 338.43 L440.75 338.47 L441.00 338.52 L441.25 338.57 L441.50 338.62 L441.75 338.66 L442.00 338.70 L442.25 338.73 L442.50 338.77 L442.75 338.80 L443.00 338.83 L443.25 338.86 L443.50 338.89 L443.75 338.92 L444.00 338.95 L444.25 338.98 L444.50 339.01 L444.75 339.04 L445.00 339.07 L445.25 339.10 L445.50 339.13 L445.75 339.16 L446.00 339.20 L446.25 339.24 L446.50 339.27 L446.75 339.31 L447.00 339.35 L447.25 339.40 L447.50 339.44 L447.75 339.48 L448.00 339.52 L448.25 339.57 L448.50 339.61 L448.75 339.66 L449.00 339.70 L449.25 339.74 L449.50 339.79 L449.75 339.84 L450.00 339.88 L450.25 339.93 L450.50 339.98 L450.75 340.02 L451.00 340.07 L451.25 340.12 L451.50 340.16 L451.75 340.21 L452.00 340.25 L452.25 340.29 L452.50 340.34 L452.75 340.38 L453.00 340.42 L453.25 340.50 Z M538.50 340.50 L538.75 340.41 L539.00 340.38 L539.25 340.33 L539.50 340.28 L539.75 340.22 L540.00 340.16 L540.25 340.09 L540.50 340.02 L540.75 339.95 L541.00 339.89 L541.25 339.85 L541.50 339.81 L541.75 339.80 L542.00 339.81 L542.25 339.83 L542.50 339.87 L542.75 339.93 L543.00 339.99 L543.25 340.06 L543.50 340.13 L543.75 340.20 L544.00 340.26 L544.25 340.32 L544.50 340.36 L544.75 340.40 L545.00 340.50 Z" fill="#ffc000" stroke="#d39e00" stroke-width="0.7" stroke-linejoin="round"/>
<path d="M184.5 340.5 V4.0 H310.5 V340.5" fill="none" stroke="#75829c" stroke-width="1"/>
<path d="M332.0 340.5 V4.0 H459.5 V340.5" fill="none" stroke="#75829c" stroke-width="1"/>
<path d="M34.5 18.70 V122.70 H545.5" fill="none" stroke="#3c3c3c" stroke-width="1"/>
<path d="M28.5 122.70 H34.5 M30.5 117.50 H34.5 M30.5 112.30 H34.5 M30.5 107.10 H34.5 M28.5 101.90 H34.5 M30.5 96.70 H34.5 M30.5 91.50 H34.5 M30.5 86.30 H34.5 M28.5 81.10 H34.5 M30.5 75.90 H34.5 M30.5 70.70 H34.5 M30.5 65.50 H34.5 M28.5 60.30 H34.5 M30.5 55.10 H34.5 M30.5 49.90 H34.5 M30.5 44.70 H34.5 M28.5 39.50 H34.5 M30.5 34.30 H34.5 M30.5 29.10 H34.5 M30.5 23.90 H34.5 M28.5 18.70 H34.5" stroke="#3c3c3c" stroke-width="1"/>
<text class="s" font-size="8.2" text-anchor="end" transform="translate(24.0 125.90) scale(0.9 1)">0</text>
<text class="s" font-size="8.2" text-anchor="end" transform="translate(24.0 105.10) scale(0.9 1)">20</text>
<text class="s" font-size="8.2" text-anchor="end" transform="translate(24.0 84.30) scale(0.9 1)">40</text>
<text class="s" font-size="8.2" text-anchor="end" transform="translate(24.0 63.50) scale(0.9 1)">60</text>
<text class="s" font-size="8.2" text-anchor="end" transform="translate(24.0 42.70) scale(0.9 1)">80</text>
<text class="s" font-size="8.2" text-anchor="end" transform="translate(24.0 21.90) scale(0.9 1)">100</text>
<text class="s" font-size="8.6" text-anchor="middle" textLength="70.5" lengthAdjust="spacingAndGlyphs" transform="translate(12.2 75.10) rotate(-90)">Relative Abundance</text>
<path d="M34.5 127.50 V231.50 H545.5" fill="none" stroke="#3c3c3c" stroke-width="1"/>
<path d="M28.5 231.50 H34.5 M30.5 226.30 H34.5 M30.5 221.10 H34.5 M30.5 215.90 H34.5 M28.5 210.70 H34.5 M30.5 205.50 H34.5 M30.5 200.30 H34.5 M30.5 195.10 H34.5 M28.5 189.90 H34.5 M30.5 184.70 H34.5 M30.5 179.50 H34.5 M30.5 174.30 H34.5 M28.5 169.10 H34.5 M30.5 163.90 H34.5 M30.5 158.70 H34.5 M30.5 153.50 H34.5 M28.5 148.30 H34.5 M30.5 143.10 H34.5 M30.5 137.90 H34.5 M30.5 132.70 H34.5 M28.5 127.50 H34.5" stroke="#3c3c3c" stroke-width="1"/>
<text class="s" font-size="8.2" text-anchor="end" transform="translate(24.0 234.70) scale(0.9 1)">0</text>
<text class="s" font-size="8.2" text-anchor="end" transform="translate(24.0 213.90) scale(0.9 1)">20</text>
<text class="s" font-size="8.2" text-anchor="end" transform="translate(24.0 193.10) scale(0.9 1)">40</text>
<text class="s" font-size="8.2" text-anchor="end" transform="translate(24.0 172.30) scale(0.9 1)">60</text>
<text class="s" font-size="8.2" text-anchor="end" transform="translate(24.0 151.50) scale(0.9 1)">80</text>
<text class="s" font-size="8.2" text-anchor="end" transform="translate(24.0 130.70) scale(0.9 1)">100</text>
<text class="s" font-size="8.6" text-anchor="middle" textLength="70.5" lengthAdjust="spacingAndGlyphs" transform="translate(12.2 183.90) rotate(-90)">Relative Abundance</text>
<path d="M34.5 236.50 V340.50 H545.5" fill="none" stroke="#3c3c3c" stroke-width="1"/>
<path d="M28.5 340.50 H34.5 M30.5 335.30 H34.5 M30.5 330.10 H34.5 M30.5 324.90 H34.5 M28.5 319.70 H34.5 M30.5 314.50 H34.5 M30.5 309.30 H34.5 M30.5 304.10 H34.5 M28.5 298.90 H34.5 M30.5 293.70 H34.5 M30.5 288.50 H34.5 M30.5 283.30 H34.5 M28.5 278.10 H34.5 M30.5 272.90 H34.5 M30.5 267.70 H34.5 M30.5 262.50 H34.5 M28.5 257.30 H34.5 M30.5 252.10 H34.5 M30.5 246.90 H34.5 M30.5 241.70 H34.5 M28.5 236.50 H34.5" stroke="#3c3c3c" stroke-width="1"/>
<text class="s" font-size="8.2" text-anchor="end" transform="translate(24.0 343.70) scale(0.9 1)">0</text>
<text class="s" font-size="8.2" text-anchor="end" transform="translate(24.0 322.90) scale(0.9 1)">20</text>
<text class="s" font-size="8.2" text-anchor="end" transform="translate(24.0 302.10) scale(0.9 1)">40</text>
<text class="s" font-size="8.2" text-anchor="end" transform="translate(24.0 281.30) scale(0.9 1)">60</text>
<text class="s" font-size="8.2" text-anchor="end" transform="translate(24.0 260.50) scale(0.9 1)">80</text>
<text class="s" font-size="8.2" text-anchor="end" transform="translate(24.0 239.70) scale(0.9 1)">100</text>
<text class="s" font-size="8.6" text-anchor="middle" textLength="70.5" lengthAdjust="spacingAndGlyphs" transform="translate(12.2 292.90) rotate(-90)">Relative Abundance</text>
<path d="M34.40 340.50 V345.50 M43.69 340.50 V343.90 M52.98 340.50 V343.90 M62.27 340.50 V343.90 M71.56 340.50 V343.90 M80.85 340.50 V345.50 M90.14 340.50 V343.90 M99.43 340.50 V343.90 M108.72 340.50 V343.90 M118.01 340.50 V343.90 M127.30 340.50 V345.50 M136.59 340.50 V343.90 M145.88 340.50 V343.90 M155.17 340.50 V343.90 M164.46 340.50 V343.90 M173.75 340.50 V345.50 M183.04 340.50 V343.90 M192.33 340.50 V343.90 M201.62 340.50 V343.90 M210.91 340.50 V343.90 M220.20 340.50 V345.50 M229.49 340.50 V343.90 M238.78 340.50 V343.90 M248.07 340.50 V343.90 M257.36 340.50 V343.90 M266.65 340.50 V345.50 M275.94 340.50 V343.90 M285.23 340.50 V343.90 M294.52 340.50 V343.90 M303.81 340.50 V343.90 M313.10 340.50 V345.50 M322.39 340.50 V343.90 M331.68 340.50 V343.90 M340.97 340.50 V343.90 M350.26 340.50 V343.90 M359.55 340.50 V345.50 M368.84 340.50 V343.90 M378.13 340.50 V343.90 M387.42 340.50 V343.90 M396.71 340.50 V343.90 M406.00 340.50 V345.50 M415.29 340.50 V343.90 M424.58 340.50 V343.90 M433.87 340.50 V343.90 M443.16 340.50 V343.90 M452.45 340.50 V345.50 M461.74 340.50 V343.90 M471.03 340.50 V343.90 M480.32 340.50 V343.90 M489.61 340.50 V343.90 M498.90 340.50 V345.50 M508.19 340.50 V343.90 M517.48 340.50 V343.90 M526.77 340.50 V343.90 M536.06 340.50 V343.90 M545.35 340.50 V345.50" stroke="#3c3c3c" stroke-width="1"/>
<text class="s" x="32.40" y="353.6" font-size="8.5" text-anchor="middle">20</text>
<text class="s" x="78.85" y="353.6" font-size="8.5" text-anchor="middle">25</text>
<text class="s" x="125.30" y="353.6" font-size="8.5" text-anchor="middle">30</text>
<text class="s" x="171.75" y="353.6" font-size="8.5" text-anchor="middle">35</text>
<text class="s" x="218.20" y="353.6" font-size="8.5" text-anchor="middle">40</text>
<text class="s" x="264.65" y="353.6" font-size="8.5" text-anchor="middle">45</text>
<text class="s" x="311.10" y="353.6" font-size="8.5" text-anchor="middle">50</text>
<text class="s" x="357.55" y="353.6" font-size="8.5" text-anchor="middle">55</text>
<text class="s" x="404.00" y="353.6" font-size="8.5" text-anchor="middle">60</text>
<text class="s" x="450.45" y="353.6" font-size="8.5" text-anchor="middle">65</text>
<text class="s" x="496.90" y="353.6" font-size="8.5" text-anchor="middle">70</text>
<text class="s" x="543.35" y="353.6" font-size="8.5" text-anchor="middle">75</text>
<text class="s" x="286" y="364.3" font-size="8.0" text-anchor="middle">Time (min)</text>
<text class="t" x="43.2" y="29.1" font-size="13.5" textLength="109.6" lengthAdjust="spacingAndGlyphs">Nemo’s Hydroponic</text>
<text class="t" x="41.3" y="137.6" font-size="13.5" textLength="62.6" lengthAdjust="spacingAndGlyphs">Nemo’s Pot</text>
<text class="t" x="40.9" y="246.9" font-size="13.5" textLength="62.9" lengthAdjust="spacingAndGlyphs">Control Pot</text>
<text class="t" x="187.4" y="14.7" font-size="11.4" textLength="39.8" lengthAdjust="spacingAndGlyphs">Phenols</text>
<text class="t" x="335.4" y="14.7" font-size="11.4" textLength="88.4" lengthAdjust="spacingAndGlyphs">Steviol glycosides</text>
<text class="t" x="187.60" y="116.60" font-size="9.2" style="stroke-width:0.05px">1</text>
<text class="t" x="198.80" y="110.60" font-size="9.2" style="stroke-width:0.05px">2</text>
<text class="t" x="237.90" y="98.20" font-size="9.2" style="stroke-width:0.05px">3</text>
<text class="t" x="264.50" y="116.60" font-size="9.2" style="stroke-width:0.05px">4</text>
<text class="t" x="274.00" y="117.00" font-size="9.2" style="stroke-width:0.05px">5</text>
<text class="t" x="289.60" y="118.50" font-size="9.2" style="stroke-width:0.05px">6</text>
<text class="t" x="303.10" y="117.50" font-size="9.2" style="stroke-width:0.05px">7</text>
<text class="t" x="338.80" y="118.10" font-size="9.2" style="stroke-width:0.05px">8</text>
<text class="t" x="352.30" y="110.80" font-size="9.2" style="stroke-width:0.05px">9</text>
<text class="t" x="360.80" y="117.60" font-size="9.2" style="stroke-width:0.05px" textLength="9.7" lengthAdjust="spacingAndGlyphs">10</text>
<text class="t" x="370.80" y="118.60" font-size="9.2" style="stroke-width:0.05px" textLength="10.2" lengthAdjust="spacingAndGlyphs">11</text>
<text class="t" x="414.60" y="28.00" font-size="9.2" style="stroke-width:0.05px">12</text>
<text class="t" x="419.80" y="88.50" font-size="9.2" style="stroke-width:0.05px">13</text>
<text class="t" x="429.30" y="100.60" font-size="9.2" style="stroke-width:0.05px">14</text>
<text class="t" x="441.50" y="116.90" font-size="9.2" style="stroke-width:0.05px">15</text>
<text class="t" x="191.20" y="226.20" font-size="9.2" style="stroke-width:0.05px">1</text>
<text class="t" x="202.90" y="219.80" font-size="9.2" style="stroke-width:0.05px">2</text>
<text class="t" x="237.30" y="203.90" font-size="9.2" style="stroke-width:0.05px">3</text>
<text class="t" x="261.40" y="225.30" font-size="9.2" style="stroke-width:0.05px">4</text>
<text class="t" x="270.40" y="225.00" font-size="9.2" style="stroke-width:0.05px">5</text>
<text class="t" x="283.50" y="224.80" font-size="9.2" style="stroke-width:0.05px">6</text>
<text class="t" x="296.60" y="225.80" font-size="9.2" style="stroke-width:0.05px">7</text>
<text class="t" x="335.20" y="226.20" font-size="9.2" style="stroke-width:0.05px">8</text>
<text class="t" x="349.70" y="216.40" font-size="9.2" style="stroke-width:0.05px">9</text>
<text class="t" x="357.90" y="225.70" font-size="9.2" style="stroke-width:0.05px" textLength="9.7" lengthAdjust="spacingAndGlyphs">10</text>
<text class="t" x="368.70" y="226.90" font-size="9.2" style="stroke-width:0.05px" textLength="10.2" lengthAdjust="spacingAndGlyphs">11</text>
<text class="t" x="412.10" y="134.90" font-size="9.2" style="stroke-width:0.05px">12</text>
<text class="t" x="419.70" y="188.70" font-size="9.2" style="stroke-width:0.05px">13</text>
<text class="t" x="431.10" y="210.90" font-size="9.2" style="stroke-width:0.05px">14</text>
<text class="t" x="438.10" y="224.50" font-size="9.2" style="stroke-width:0.05px">15</text>
<text class="t" x="201.00" y="335.80" font-size="9.2" style="stroke-width:0.05px">1</text>
<text class="t" x="207.70" y="333.60" font-size="9.2" style="stroke-width:0.05px">2</text>
<text class="t" x="238.80" y="324.70" font-size="9.2" style="stroke-width:0.05px">3</text>
<text class="t" x="262.20" y="335.70" font-size="9.2" style="stroke-width:0.05px">4</text>
<text class="t" x="270.40" y="335.70" font-size="9.2" style="stroke-width:0.05px">5</text>
<text class="t" x="282.30" y="335.50" font-size="9.2" style="stroke-width:0.05px">6</text>
<text class="t" x="297.00" y="325.50" font-size="9.2" style="stroke-width:0.05px">7</text>
<text class="t" x="332.60" y="335.20" font-size="9.2" style="stroke-width:0.05px">8</text>
<text class="t" x="348.30" y="326.00" font-size="9.2" style="stroke-width:0.05px">9</text>
<text class="t" x="356.10" y="335.40" font-size="9.2" style="stroke-width:0.05px" textLength="9.7" lengthAdjust="spacingAndGlyphs">10</text>
<text class="t" x="366.80" y="336.60" font-size="9.2" style="stroke-width:0.05px" textLength="10.2" lengthAdjust="spacingAndGlyphs">11</text>
<text class="t" x="411.30" y="243.70" font-size="9.2" style="stroke-width:0.05px">12</text>
<text class="t" x="419.70" y="305.70" font-size="9.2" style="stroke-width:0.05px">13</text>
<text class="t" x="431.10" y="319.40" font-size="9.2" style="stroke-width:0.05px">14</text>
<text class="t" x="437.00" y="333.70" font-size="9.2" style="stroke-width:0.05px">15</text>
<line x1="432.8" y1="104.7" x2="428.5" y2="112.7" stroke="#8d99b6" stroke-width="0.7"/>
<line x1="434.6" y1="213.3" x2="430.6" y2="220.6" stroke="#8d99b6" stroke-width="0.7"/>
<line x1="434.0" y1="323.2" x2="430.0" y2="330.5" stroke="#8d99b6" stroke-width="0.7"/>
<line x1="299.0" y1="329.2" x2="297.0" y2="339.4" stroke="#8d99b6" stroke-width="0.7"/>
</g></svg></body></html>
